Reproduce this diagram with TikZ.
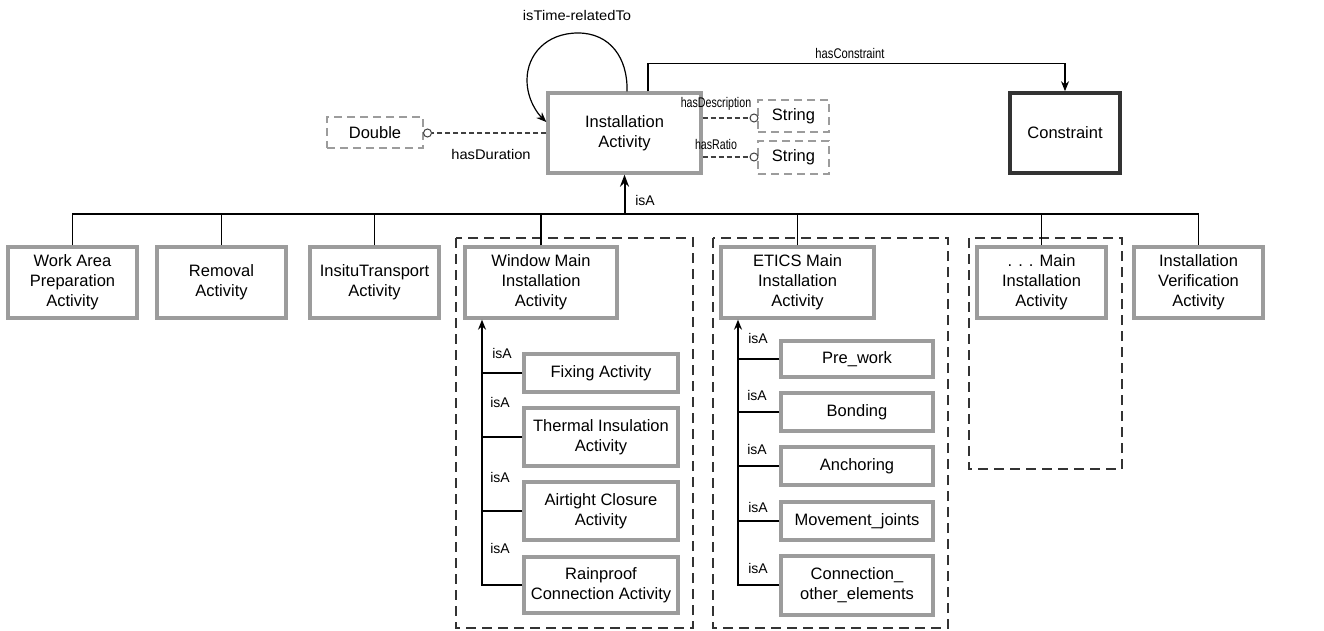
\documentclass[tikz,border=0pt]{standalone}
\usepackage{fontspec}
\setmainfont{Liberation Sans}
\usetikzlibrary{arrows.meta}
\definecolor{boxgray}{HTML}{9C9C9C}
\definecolor{framegray}{HTML}{333333}
\begin{document}
\begin{tikzpicture}[x=1pt,y=-1pt,
  box/.style={draw=boxgray, line width=3.4pt, fill=white, align=center, inner sep=0pt,
    font=\fontsize{16.5}{20}\selectfont},
  dbox/.style={draw=boxgray, line width=2pt, dash pattern=on 8pt off 5pt, fill=white,
    align=center, inner sep=0pt, font=\fontsize{16.5}{20}\selectfont},
  cbox/.style={draw=framegray, line width=3.6pt, fill=white, align=center, inner sep=0pt,
    font=\fontsize{16.5}{20}\selectfont},
  frame/.style={draw=framegray, line width=2.4pt, dash pattern=on 10pt off 6pt},
  lbl/.style={font=\fontsize{14}{16}\selectfont, inner sep=0pt},
  conn/.style={line width=1.2pt, draw=black},
  dconn/.style={line width=1.2pt, dash pattern=on 5pt off 3pt, draw=black!75},
  arr/.style={-{Stealth[length=10pt,width=8pt]}},
  knob/.style={circle, draw=black!75, line width=1pt, fill=white, inner sep=0pt, minimum size=8pt},
]
\useasboundingbox (0,0) rectangle (1324,631);

% containers
\draw[frame] (456,238) rectangle (693,628);
\draw[frame] (713,238) rectangle (948,628);
\draw[frame] (969,238) rectangle (1122,469);

% top level
\node[box, minimum width=153pt, minimum height=80pt] (ia) at (624.5,133) {Installation\\Activity};
\node[dbox, minimum width=96pt, minimum height=31pt] (dbl) at (375,132.5) {Double};
\node[dbox, minimum width=71pt, minimum height=32pt] (s1) at (793.5,116) {String};
\node[dbox, minimum width=71pt, minimum height=33pt] (s2) at (793.5,157.5) {String};
\node[cbox, minimum width=110pt, minimum height=80pt] (con) at (1065,133) {Constraint};

\node[knob] (k0) at (427.5,133) {};
\node[knob] (k1) at (754,118) {};
\node[knob] (k2) at (754,157) {};

\draw[dconn] (ia.west |- k0) -- (k0);
\draw[dconn] (ia.east |- k1) -- (k1);
\draw[dconn] (ia.east |- k2) -- (k2);
\node[lbl] at (491,154) {\scalebox{1.05}[1]{hasDuration}};
\node[lbl] at (716,104) {\scalebox{0.76}[1]{hasDescription}};
\node[lbl] at (716,144) {\scalebox{0.76}[1]{hasRatio}};

% self loop
\coordinate (ls) at ([xshift=2.5pt]ia.north);
\coordinate (le) at (ia.west |- 0,122);
\draw[conn, arr] (ls) .. controls (628,58) and (610,33) .. (578,33)
  .. controls (546,33) and (527,55) .. (527,80)
  .. controls (527,100) and (538,114) .. (le);
\node[lbl] at (577,15) {\scalebox{1.05}[1]{isTime-relatedTo}};

% hasConstraint
\coordinate (hs) at ([xshift=23.5pt]ia.north);
\draw[conn, arr] (hs) -- ++(0,-28) -| (con.north);
\node[lbl] at (850,53) {\scalebox{0.8}[1]{hasConstraint}};

% second level
\node[box, minimum width=129pt, minimum height=71pt] (wa) at (72.5,282.5) {Work Area\\Preparation\\Activity};
\node[box, minimum width=129pt, minimum height=71pt] (rm) at (221.5,282.5) {Removal\\Activity};
\node[box, minimum width=129pt, minimum height=71pt] (it) at (374.5,282.5) {InsituTransport\\Activity};
\node[box, minimum width=152pt, minimum height=71pt] (wm) at (541,282.5) {Window Main\\Installation\\Activity};
\node[box, minimum width=153pt, minimum height=71pt] (em) at (797.5,282.5) {ETICS Main\\Installation\\Activity};
\node[box, minimum width=129pt, minimum height=71pt] (om) at (1041.5,282.5) {. . . Main\\Installation\\Activity};
\node[box, minimum width=129pt, minimum height=71pt] (iv) at (1198.5,282.5) {Installation\\Verification\\Activity};

% bus
\coordinate (busL) at (wa.north |- 0,214);
\draw[conn] (wa.north) -- (busL) -| (iv.north);
\draw[conn] (rm.north) -- (rm.north |- busL);
\draw[conn] (it.north) -- (it.north |- busL);
\draw[conn] (wm.north) -- (wm.north |- busL);
\draw[conn] (em.north) -- (em.north |- busL);
\draw[conn] (om.north) -- (om.north |- busL);
\draw[line width=2pt, -{Stealth[length=12pt,width=9pt]}] (ia.south |- busL) -- (ia.south);
\node[lbl] at (645,200) {isA};

% window children
\node[box, minimum width=154pt, minimum height=38pt] (fx) at (601,373) {Fixing Activity};
\node[box, minimum width=154pt, minimum height=58pt] (th) at (601,437) {Thermal Insulation\\Activity};
\node[box, minimum width=154pt, minimum height=58pt] (at) at (601,511) {Airtight Closure\\Activity};
\node[box, minimum width=154pt, minimum height=56pt] (rp) at (601,585) {Rainproof\\Connection Activity};
\coordinate (wb) at (482,585);
\draw[conn, arr] (rp.west) -- (wb) -- (wb |- wm.south);
\draw[conn] (fx.west) -- (fx.west -| wb);
\draw[conn] (th.west) -- (th.west -| wb);
\draw[conn] (at.west) -- (at.west -| wb);
\node[lbl] at (502,353) {isA};
\node[lbl] at (500,402) {isA};
\node[lbl] at (500,477) {isA};
\node[lbl] at (500,548) {isA};

% ETICS children
\node[box, minimum width=152pt, minimum height=36pt] (pw) at (857,359) {Pre\_work};
\node[box, minimum width=152pt, minimum height=38pt] (bd) at (857,412) {Bonding};
\node[box, minimum width=152pt, minimum height=38pt] (an) at (857,466) {Anchoring};
\node[box, minimum width=152pt, minimum height=38pt] (mj) at (857,521) {Movement\_joints};
\node[box, minimum width=152pt, minimum height=59pt] (co) at (857,585.5) {Connection\_\\other\_elements};
\coordinate (eb) at (738,585);
\draw[conn, arr] (co.west |- eb) -- (eb) -- (eb |- em.south);
\draw[conn] (pw.west) -- (pw.west -| eb);
\draw[conn] (bd.west) -- (bd.west -| eb);
\draw[conn] (an.west) -- (an.west -| eb);
\draw[conn] (mj.west) -- (mj.west -| eb);
\node[lbl] at (758,338) {isA};
\node[lbl] at (757,395) {isA};
\node[lbl] at (757,449) {isA};
\node[lbl] at (758,507) {isA};
\node[lbl] at (758,568) {isA};
\end{tikzpicture}
\end{document}
